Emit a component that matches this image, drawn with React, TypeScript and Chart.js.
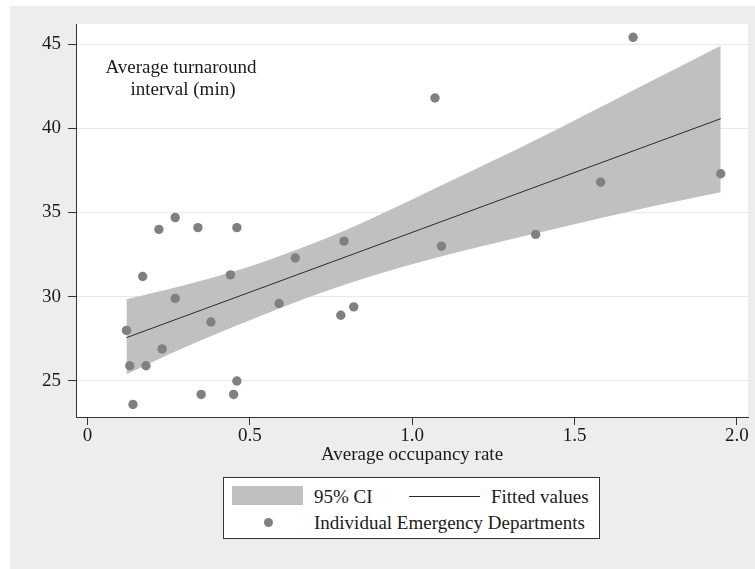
import { useEffect, useRef } from 'react'
import { Chart, registerables } from 'chart.js'
import type { Plugin } from 'chart.js'

Chart.register(...registerables)

// Individual emergency departments (scatter)
const occupancy = [0.12, 0.13, 0.18, 0.14, 0.17, 0.22, 0.27, 0.23, 0.27, 0.34, 0.38, 0.35, 0.44, 0.46,
  0.46, 0.45, 0.59, 0.64, 0.79, 0.78, 0.82, 1.07, 1.09, 1.38, 1.58, 1.68, 1.95]
const turnaround = [28.0, 25.9, 25.9, 23.6, 31.2, 34.0, 34.7, 26.9, 29.9, 34.1, 28.5, 24.2, 31.3, 34.1,
  25.0, 24.2, 29.6, 32.3, 33.3, 28.9, 29.4, 41.8, 33.0, 33.7, 36.8, 45.4, 37.3]

// Fitted values (linear fit)
const fitX = [0.12, 1.95]
const fitY = [27.57, 40.57]

// 95% CI band
const ciX = [0.12, 0.30, 0.50, 0.70, 0.87, 1.10, 1.38, 1.69, 1.95]
const ciUpper = [29.85, 30.7, 31.8, 33.2, 34.6, 36.7, 39.3, 42.35, 44.9]
const ciLower = [25.4, 27.0, 28.6, 30.1, 31.2, 32.45, 33.75, 35.15, 36.2]

const xTicks = [0, 0.5, 1, 1.5, 2]
const xTickLabels = ['0', '0.5', '1.0', '1.5', '2.0']
const yTicks = [25, 30, 35, 40, 45]

const FONT = '"Liberation Serif", "Times New Roman", serif'
const TEXT = '#1a1a1a'
const BAND = '#c0c0c0'
const DOT = '#808080'

const toPts = (xs: number[], ys: number[]) => xs.map((x, i) => ({ x, y: ys[i] }))

// fond blanc de la zone de tracé + annotation du titre de l'axe y
const plotDecor: Plugin = {
  id: 'plotDecor',
  beforeDraw(chart) {
    const { ctx, chartArea: a } = chart
    ctx.save()
    ctx.fillStyle = '#ffffff'
    ctx.fillRect(a.left, a.top, a.right - a.left, a.bottom - a.top)
    ctx.restore()
  },
  afterDatasetsDraw(chart) {
    const { ctx, chartArea: a } = chart
    ctx.save()
    ctx.fillStyle = TEXT
    ctx.font = `19px ${FONT}`
    ctx.textAlign = 'center'
    ctx.textBaseline = 'middle'
    ctx.fillText('Average turnaround', a.left + 105, 68)
    ctx.fillText('interval (min)', a.left + 107, 90)
    ctx.restore()
  },
}

function ScatterFit() {
  const canvasRef = useRef<HTMLCanvasElement>(null)

  useEffect(() => {
    if (!canvasRef.current) return
    const chart = new Chart(canvasRef.current, {
      type: 'scatter',
      data: {
        datasets: [
          {
            label: 'Individual Emergency Departments',
            data: toPts(occupancy, turnaround),
            backgroundColor: DOT,
            borderWidth: 0,
            pointRadius: 4.7,
            order: 0,
          },
          {
            type: 'line',
            label: 'Fitted values',
            data: toPts(fitX, fitY),
            borderColor: '#2a2a2a',
            borderWidth: 1,
            pointRadius: 0,
            fill: false,
            order: 1,
          },
          {
            type: 'line',
            label: '95% CI',
            data: toPts(ciX, ciUpper),
            borderWidth: 0,
            borderColor: BAND,
            backgroundColor: BAND,
            pointRadius: 0,
            cubicInterpolationMode: 'monotone',
            fill: '+1',
            order: 2,
          },
          {
            type: 'line',
            label: 'CI lower',
            data: toPts(ciX, ciLower),
            borderWidth: 0,
            borderColor: BAND,
            pointRadius: 0,
            cubicInterpolationMode: 'monotone',
            fill: false,
            order: 3,
          },
        ],
      },
      options: {
        animation: false,
        responsive: false,
        layout: { padding: { top: 24, right: 7, left: 0, bottom: 0 } },
        plugins: { legend: { display: false }, tooltip: { enabled: false } },
        scales: {
          x: {
            type: 'linear',
            min: -0.0354,
            max: 2.0339,
            afterBuildTicks: (s) => { s.ticks = xTicks.map(v => ({ value: v })) },
            afterFit: (s) => { s.height = 53 },
            ticks: {
              callback: (_v, i) => xTickLabels[i],
              font: { family: FONT, size: 19 },
              color: TEXT,
              padding: 0,
              maxRotation: 0,
              autoSkip: false,
            },
            grid: { drawOnChartArea: false, tickColor: '#333', tickLength: 8 },
            border: { color: '#333', width: 1 },
            title: {
              display: true,
              text: 'Average occupancy rate',
              font: { family: FONT, size: 19 },
              color: TEXT,
              padding: { top: 0, bottom: 4 },
            },
          },
          y: {
            type: 'linear',
            min: 22.86,
            max: 46.19,
            afterBuildTicks: (s) => { s.ticks = yTicks.map(v => ({ value: v })) },
            afterFit: (s) => { s.width = 76 },
            ticks: { font: { family: FONT, size: 19 }, color: TEXT, padding: 7 },
            grid: { color: '#e8e8e8', lineWidth: 1, tickColor: '#333', tickLength: 8 },
            border: { color: '#333', width: 1 },
          },
        },
      },
      plugins: [plotDecor],
    })
    return () => chart.destroy()
  }, [])

  const legendText: React.CSSProperties = {
    position: 'absolute', fontFamily: FONT, fontSize: 19, color: TEXT, lineHeight: '22px', whiteSpace: 'nowrap',
  }

  return (
    <div style={{ position: 'fixed', left: 0, top: 0, width: 755, height: 569, background: '#ffffff' }}>
      <div style={{ position: 'absolute', left: 10, top: 6, width: 745, height: 563, background: '#ededed' }} />
      <canvas ref={canvasRef} width={755} height={470}
        style={{ position: 'absolute', left: 0, top: 0, width: 755, height: 470 }} />
      <div style={{
        position: 'absolute', left: 223, top: 477, width: 375, height: 60,
        background: '#ffffff', border: '1px solid #333',
      }}>
        <div style={{ position: 'absolute', left: 8, top: 8, width: 71, height: 19, background: BAND }} />
        <div style={{ ...legendText, left: 90, top: 8 }}>95% CI</div>
        <div style={{ position: 'absolute', left: 185, top: 18, width: 71, height: 1, background: '#2a2a2a' }} />
        <div style={{ ...legendText, left: 267, top: 8 }}>Fitted values</div>
        <div style={{
          position: 'absolute', left: 40, top: 40, width: 9, height: 9, borderRadius: '50%', background: DOT,
        }} />
        <div style={{ ...legendText, left: 90, top: 34 }}>Individual Emergency Departments</div>
      </div>
    </div>
  )
}

export default function App() {
  return <ScatterFit />
}
